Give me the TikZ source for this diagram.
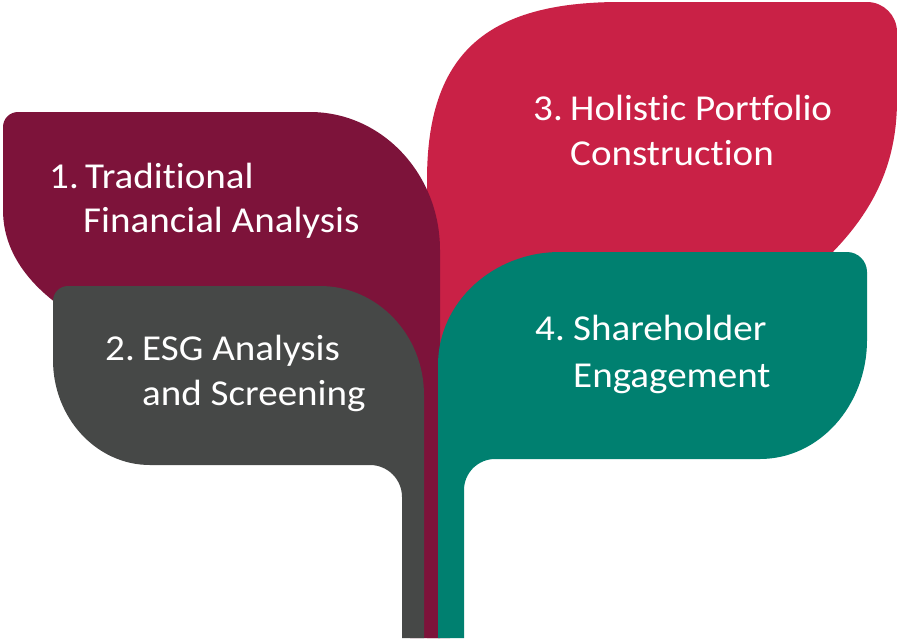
\documentclass[tikz,border=0pt]{standalone}
\usepackage{fontspec}
\setmainfont{Carlito}[Ligatures=NoCommon, FakeStretch=1.07]
\definecolor{maroon}{RGB}{125,19,58}
\definecolor{crimson}{RGB}{201,33,70}
\definecolor{slate}{RGB}{70,72,71}
\definecolor{teal}{RGB}{0,128,112}
\tikzset{
  lbl/.style={anchor=base west, inner sep=0pt, text=white, font=\fontsize{36.5}{44}\selectfont}
}
\newcommand{\numbox}[2]{\makebox[#1pt][l]{#2}}
\begin{document}
\begin{tikzpicture}[x=1pt,y=-1pt]
\useasboundingbox (0,0) rectangle (897,638);
% crimson leaf (3)
\fill[crimson] (427,638) -- (427,180) .. controls (427,55) and (485,2) .. (620,2)
  -- (867,2) .. controls (883.6,2) and (897,15.4) .. (897,32)
  -- (897,100) .. controls (897,180) and (860,235) .. (790,290)
  -- (760,440) -- (450,440) -- (450,638) -- cycle;
% maroon leaf (1)
\fill[maroon] (440,638) -- (440,250) .. controls (440,173.8) and (381.8,112) .. (310,112)
  -- (18,112) .. controls (9.7,112) and (3,118.7) .. (3,127)
  -- (3,210) .. controls (3,260) and (40,300) .. (100,330)
  -- (200,440) -- (410,440) -- (410,638) -- cycle;
% slate leaf (2)
\fill[slate] (402,638) -- (402,497) .. controls (402,479.3) and (387.7,465) .. (370,465)
  -- (150,465) .. controls (96.5,465) and (53,418) .. (53,360)
  -- (53,301) .. controls (53,292.7) and (59.7,286) .. (68,286)
  -- (320,286) .. controls (377.4,286) and (424,334.8) .. (424,395)
  -- (424,638) -- cycle;
% teal leaf (4)
\fill[teal] (464,638) -- (464,490) .. controls (464,472.9) and (477.9,459) .. (495,459)
  -- (760,459) .. controls (819,459) and (867,405.7) .. (867,340)
  -- (867,272) .. controls (867,261) and (858,252) .. (847,252)
  -- (560,252) .. controls (492.7,252) and (438,302.6) .. (438,365)
  -- (438,638) -- cycle;
% labels
\node[lbl] (t1a) at (49,188) {\numbox{36}{1.}Traditional};
\node[lbl] (t1b) at (83,232) {Financial Analysis};
\node[lbl] (t2a) at (105,360) {\numbox{37}{2.}ESG Analysis};
\node[lbl] (t2b) at (142,405) {and Screening};
\node[lbl] (t3a) at (533,120) {\numbox{37}{3.}Holistic Portfolio};
\node[lbl] (t3b) at (570,165) {Construction};
\node[lbl] (t4a) at (535,340) {\numbox{38}{4.}Shareholder};
\node[lbl] (t4b) at (573,387) {Engagement};
\end{tikzpicture}
\end{document}
